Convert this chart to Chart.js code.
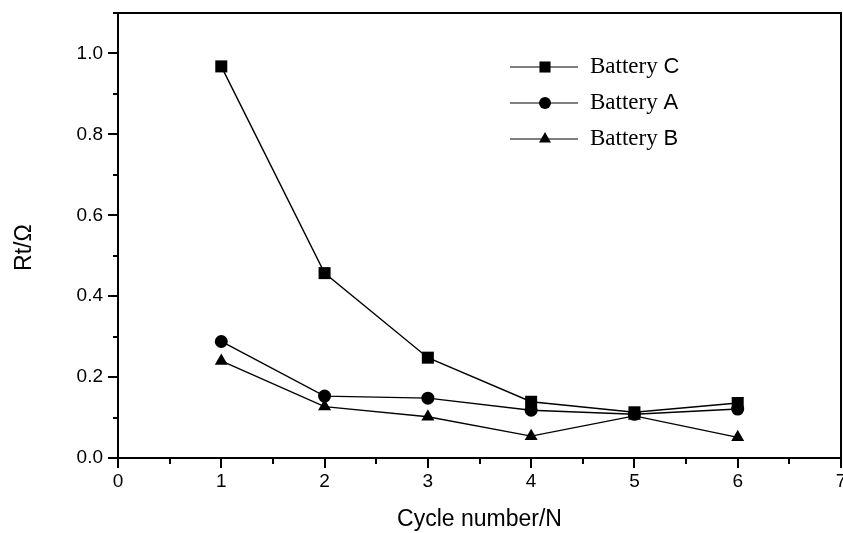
<!DOCTYPE html>
<html>
<head>
<meta charset="utf-8">
<script src="https://cdn.jsdelivr.net/npm/chart.js@4"></script>
<style>
  html, body { margin: 0; padding: 0; background: #fff; }
  #wrap { width: 843px; height: 533px; }
</style>
</head>
<body>
<div id="wrap"><canvas id="c" width="843" height="533"></canvas></div>
<script>
// Charge-transfer resistance per cycle for three batteries
const cycles = [1, 2, 3, 4, 5, 6];
const batteryC = [0.968, 0.457, 0.248, 0.139, 0.113, 0.136];
const batteryA = [0.288, 0.153, 0.148, 0.118, 0.108, 0.121];
const batteryB = [0.240, 0.127, 0.102, 0.054, 0.104, 0.051];
const seriesNames = ['C', 'A', 'B'];
const xTitle = 'Cycle number/N';
const yTitle = 'Rt/\u03A9';

const SANS = '"Liberation Sans", Arial, sans-serif';
const SERIF = '"Liberation Serif", "Times New Roman", serif';

function points(values) {
  return cycles.map((c, i) => ({ x: c, y: values[i] }));
}

const markers = [
  { style: 'rect', radius: 8.5 },
  { style: 'circle', radius: 6.5 },
  { style: 'triangle', radius: 7.5 }
];

function makeSet(name, values, m) {
  return {
    label: 'Battery ' + name,
    data: points(values),
    borderColor: '#000',
    backgroundColor: '#000',
    borderWidth: 1.4,
    pointStyle: m.style,
    pointRadius: m.radius,
    pointHoverRadius: m.radius,
    pointBackgroundColor: '#000',
    pointBorderColor: '#000',
    pointBorderWidth: 0,
    tension: 0,
    fill: false,
    clip: false
  };
}

// Box frame, outward major/minor tick marks and the vertical axis title
const framePlugin = {
  id: 'frame',
  afterDatasetsDraw(chart) {
    const { ctx, chartArea: a, scales: { x, y } } = chart;
    ctx.save();
    ctx.strokeStyle = '#000';
    ctx.lineWidth = 2;
    ctx.strokeRect(a.left, a.top, a.right - a.left, a.bottom - a.top);
    ctx.beginPath();
    for (let k = 0; k <= 14; k++) {
      const v = k * 0.5;
      const px = Math.round(x.getPixelForValue(v));
      const len = (k % 2 === 0) ? 10 : 6;
      ctx.moveTo(px, a.bottom);
      ctx.lineTo(px, a.bottom + len);
    }
    for (let k = 0; k <= 11; k++) {
      const v = k / 10;
      const py = Math.round(y.getPixelForValue(v));
      const len = (k % 2 === 0) ? 10 : 5;
      ctx.moveTo(a.left, py);
      ctx.lineTo(a.left - len, py);
    }
    ctx.stroke();

    // axis title, centred a little below the middle of the axis
    ctx.translate(25, y.getPixelForValue(0.52));
    ctx.rotate(-Math.PI / 2);
    ctx.fillStyle = '#000';
    ctx.font = '23px ' + SANS;
    ctx.textAlign = 'center';
    ctx.textBaseline = 'middle';
    ctx.fillText(yTitle, 0, 0);
    ctx.restore();
  }
};

function drawMarker(ctx, style, r, cx, cy) {
  ctx.beginPath();
  if (style === 'rect') {
    const s = r / Math.SQRT2;
    ctx.rect(cx - s, cy - s, 2 * s, 2 * s);
  } else if (style === 'circle') {
    ctx.arc(cx, cy, r, 0, Math.PI * 2);
  } else {
    const w = r * Math.sqrt(3);
    ctx.moveTo(cx, cy - r);
    ctx.lineTo(cx + w / 2, cy + r / 2);
    ctx.lineTo(cx - w / 2, cy + r / 2);
    ctx.closePath();
  }
  ctx.fill();
}

// Legend: line with marker, serif word and sans letter
const legendPlugin = {
  id: 'lineLegend',
  afterDraw(chart) {
    const { ctx } = chart;
    ctx.save();
    chart.data.datasets.forEach((ds, i) => {
      const cy = 67 + i * 36;
      ctx.strokeStyle = '#000';
      ctx.fillStyle = '#000';
      ctx.lineWidth = 1.2;
      ctx.beginPath();
      ctx.moveTo(510, cy);
      ctx.lineTo(578, cy);
      ctx.stroke();
      drawMarker(ctx, ds.pointStyle, ds.pointRadius * 0.92, 545, cy);
      ctx.textBaseline = 'middle';
      ctx.textAlign = 'left';
      ctx.font = '23px ' + SERIF;
      const word = 'Battery ';
      ctx.fillText(word, 590, cy);
      const w = ctx.measureText(word).width;
      ctx.font = '22px ' + SANS;
      ctx.fillText(seriesNames[i], 590 + w, cy);
    });
    ctx.restore();
  }
};

function noEdgePadding(s) {
  s.paddingLeft = 0; s.paddingRight = 0;
  s.paddingTop = 0; s.paddingBottom = 0;
}

new Chart(document.getElementById('c'), {
  type: 'line',
  data: {
    datasets: [
      makeSet(seriesNames[0], batteryC, markers[0]),
      makeSet(seriesNames[1], batteryA, markers[1]),
      makeSet(seriesNames[2], batteryB, markers[2])
    ]
  },
  options: {
    responsive: false,
    devicePixelRatio: 1,
    animation: false,
    layout: { autoPadding: false, padding: { top: 13, right: 2, left: 0, bottom: 0 } },
    plugins: { legend: { display: false }, tooltip: { enabled: false } },
    scales: {
      x: {
        type: 'linear',
        min: 0, max: 7,
        grid: { display: false, drawTicks: false },
        border: { display: false },
        afterFit(s) { s.height = 75; noEdgePadding(s); },
        ticks: {
          stepSize: 0.5,
          autoSkip: false,
          maxRotation: 0,
          padding: 12,
          color: '#000',
          font: { family: SANS, size: 19 },
          callback: v => (Math.abs(v - Math.round(v)) < 1e-6 ? String(Math.round(v)) : '')
        },
        title: {
          display: true, text: xTitle, color: '#000',
          font: { family: SANS, size: 23 },
          padding: { top: 0, bottom: 0 }
        }
      },
      y: {
        type: 'linear',
        min: 0, max: 1.1,
        grid: { display: false, drawTicks: false },
        border: { display: false },
        afterFit(s) { s.width = 118; noEdgePadding(s); },
        ticks: {
          stepSize: 0.1,
          autoSkip: false,
          padding: 15,
          color: '#000',
          font: { family: SANS, size: 19 },
          callback: v => {
            const k = Math.round(v * 10);
            return (k % 2 === 0 && k <= 10) ? (k / 10).toFixed(1) : '';
          }
        },
        title: { display: false, text: yTitle }
      }
    }
  },
  plugins: [framePlugin, legendPlugin]
});
</script>
</body>
</html>
